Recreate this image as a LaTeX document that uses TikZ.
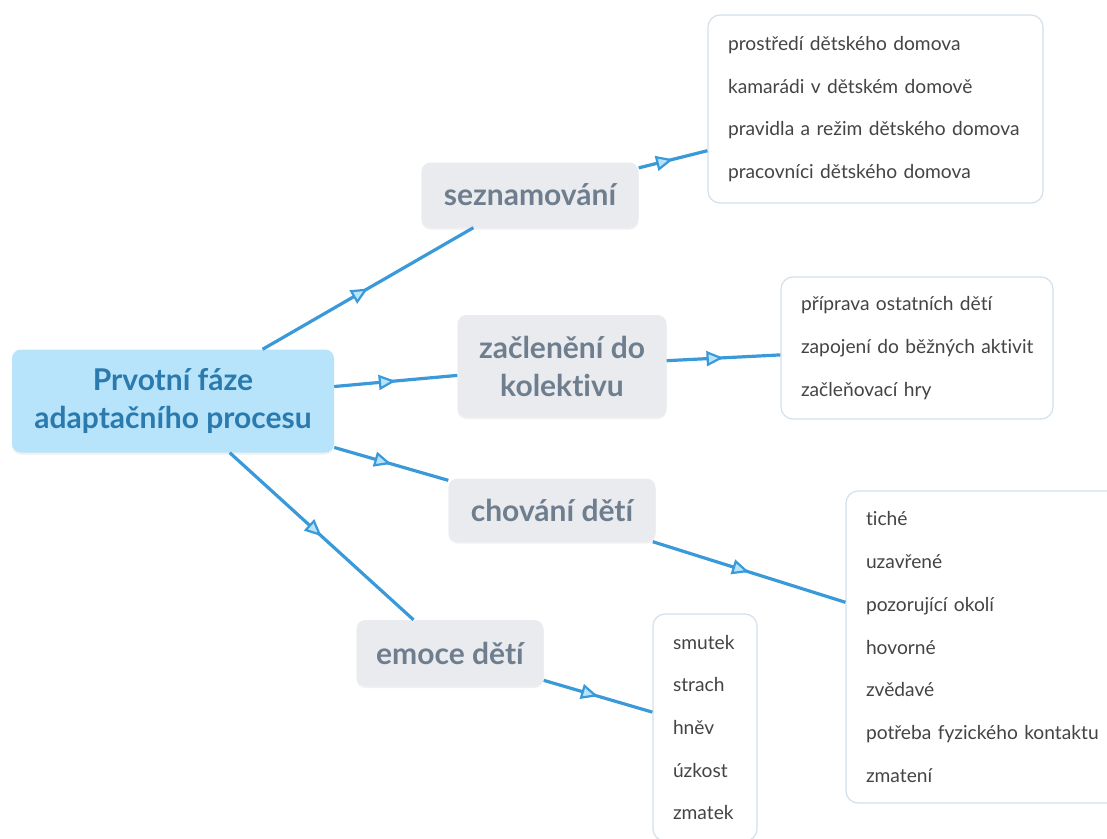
\documentclass[tikz,border=0pt]{standalone}
\usepackage{fontspec}
\setmainfont{Lato}[Ligatures=NoCommon]
\usepackage{tikz}
\usetikzlibrary{arrows.meta,decorations.markings,shadows}
\definecolor{rootfill}{HTML}{B7E3FB}
\definecolor{roottext}{HTML}{2B7AAE}
\definecolor{topicfill}{HTML}{E9EBEE}
\definecolor{topictext}{HTML}{6E7E8F}
\definecolor{leafline}{HTML}{D3E0EA}
\definecolor{leaftext}{HTML}{444444}
\definecolor{linkblue}{HTML}{3A9AD9}
\definecolor{arrowfill}{HTML}{B7E3FB}

\begin{document}
\begin{tikzpicture}[x=1pt, y=-1pt,
    root/.style={rectangle, rounded corners=9pt, fill=rootfill, text=roottext, align=center,
        font=\fontsize{30}{38}\selectfont\bfseries, minimum width=322pt, minimum height=103pt,
        drop shadow={opacity=.12, shadow xshift=0pt, shadow yshift=-2pt}},
    topic/.style={rectangle, rounded corners=9pt, fill=topicfill, text=topictext, align=center,
        font=\fontsize{30}{38}\selectfont\bfseries,
        drop shadow={opacity=.12, shadow xshift=0pt, shadow yshift=-2pt}},
    leaf/.style={rectangle, rounded corners=12pt, draw=leafline, line width=1.2pt, fill=white,
        text=leaftext, align=left, inner xsep=20pt, font=\fontsize{19.2}{42.7}\selectfont},
    link/.style={draw=linkblue, line width=3.2pt, postaction={decorate},
        decoration={markings, mark=at position .5 with {\arrow{Triangle[length=17pt, width=15pt, fill=arrowfill, line width=2.2pt]}}}}
]
                
                    \useasboundingbox (0,0) rectangle (1107,838);
                    \clip (0,0) rectangle (1107,838);

                    \node[root] (prvotni) at (173,401) {Prvotní fáze\\adaptačního procesu};

                    \node[topic, minimum width=217pt, minimum height=65pt] (seznam) at (530,195) {seznamování};
                    \node[topic, minimum width=209pt, minimum height=102pt] (zaclen) at (562,366) {začlenění do\\kolektivu};
                    \node[topic, minimum width=207pt, minimum height=63pt] (chovani) at (552,510) {chování dětí};
                    \node[topic, minimum width=187pt, minimum height=66pt] (emoce) at (450,653) {emoce dětí};

                    \node[leaf, text width=295pt, minimum height=188pt] (seznamL) at (875.5,109) {prostředí dětského domova\\kamarádi v dětském domově\\\mbox{pravidla a režim dětského domova}\\pracovníci dětského domova};
                    \node[leaf, text width=232pt, minimum height=142pt] (zaclenL) at (917,348) {příprava ostatních dětí\\\mbox{zapojení do běžných aktivit}\\začleňovací hry};
                    \node[leaf, text width=244pt, minimum height=312pt] (chovaniL) at (988,647) {tiché\\uzavřené\\pozorující okolí\\hovorné\\zvědavé\\\mbox{potřeba fyzického kontaktu}\\zmatení};
                    \node[leaf, text width=64pt, minimum height=227pt] (emoceL) at (705,727.5) {smutek\\strach\\hněv\\úzkost\\zmatek};

                    \draw[link] (prvotni) -- (seznam);
                    \draw[link] (prvotni) -- (zaclen);
                    \draw[link] (prvotni) -- (chovani);
                    \draw[link] (prvotni) -- (emoce);
                    \draw[link] (seznam) -- (seznamL);
                    \draw[link] (zaclen) -- (zaclenL);
                    \draw[link] (chovani) -- (chovaniL);
                    \draw[link] (emoce) -- (emoceL);
                    
                \end{tikzpicture}
\end{document}
